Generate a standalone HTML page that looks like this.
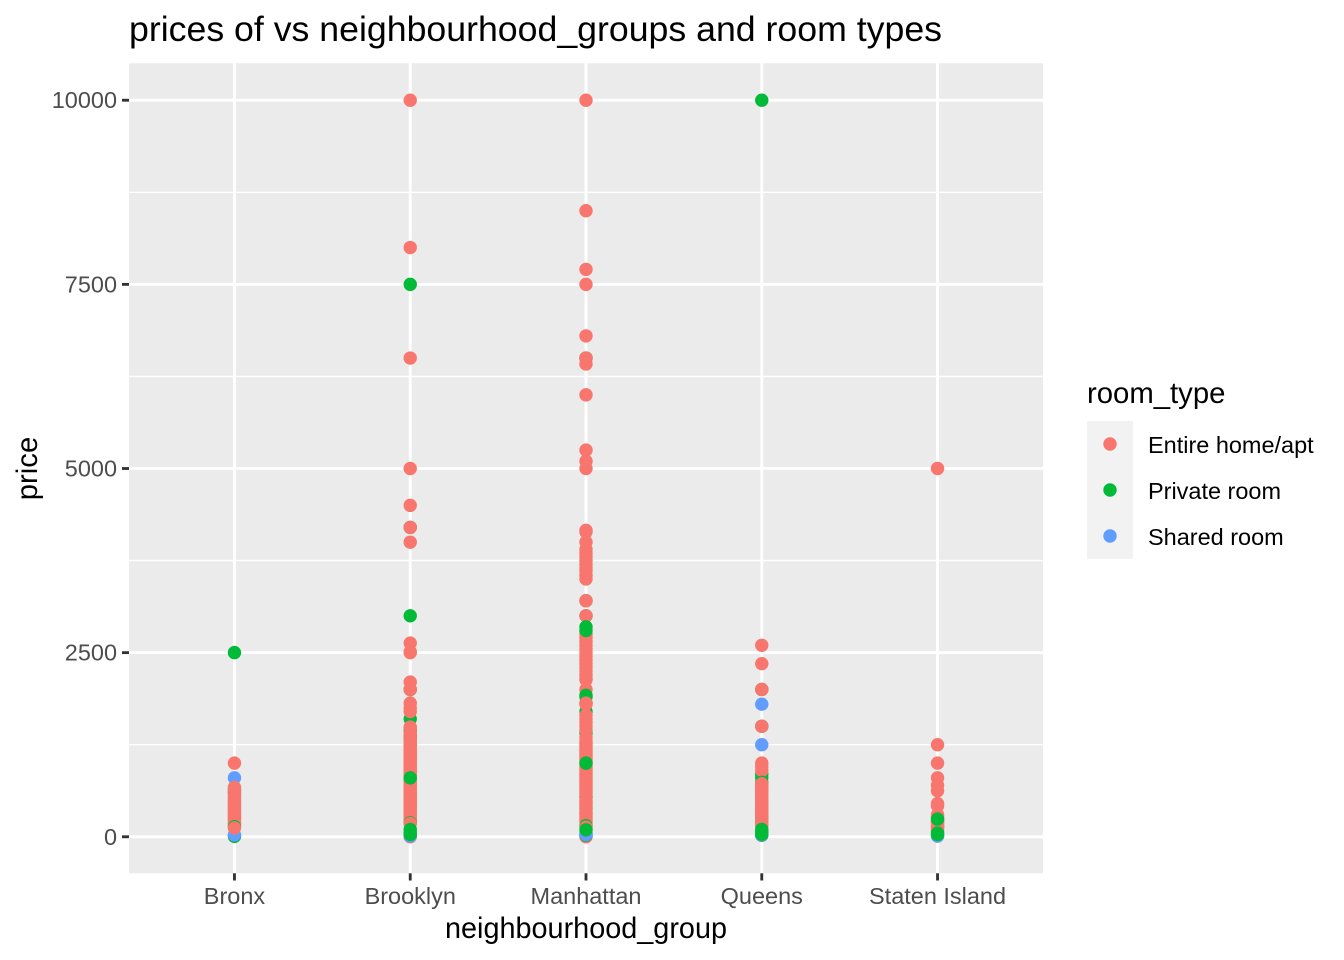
<!DOCTYPE html>
<html lang="en">
<head>
<meta charset="utf-8">
<title>prices of vs neighbourhood_groups and room types</title>
<style>
html,body{margin:0;padding:0;background:#fff;}
svg{display:block;font-family:"Liberation Sans",Arial,sans-serif;}
</style>
</head>
<body>
<svg id="chart" xmlns="http://www.w3.org/2000/svg" width="1344" height="960" viewBox="0 0 1344 960">
  <rect x="0" y="0" width="1344" height="960" fill="#ffffff"/>
  <rect x="129" y="63.3" width="914" height="810" fill="#ebebeb"/>
  <g id="grid"></g>
  <g id="points"></g>
  <g id="axes"></g>
  <text x="129" y="41" font-size="35.2" textLength="813" lengthAdjust="spacingAndGlyphs" fill="#000">prices of vs neighbourhood_groups and room types</text>
  <text x="445" y="938" font-size="29.3" textLength="282" lengthAdjust="spacingAndGlyphs" fill="#000">neighbourhood_group</text>
  <text transform="translate(37 468.5) rotate(-90)" font-size="29.3" text-anchor="middle" fill="#000">price</text>
  <g id="legend">
    <text x="1087" y="403" font-size="29.3" fill="#000">room_type</text>
  </g>
</svg>
<script>
const categories = ["Bronx", "Brooklyn", "Manhattan", "Queens", "Staten Island"];
const roomTypes = ["Entire home/apt", "Private room", "Shared room"];
const yTicks = [0, 2500, 5000, 7500, 10000];
const yMinorTicks = [1250, 3750, 6250, 8750];

/* Each series holds one price list per category, in the order of `categories`. */
const entireBack = [
  [],
  [0, 4200, 2000],
  [0, 10, 6500, 3000],
  [20, 2000, 1500],
  [10]
];
const privateBack = [
  [5, 15, 640, 610],
  [20, 1350, 1600, 4200, 2000, 1250, 1100, 500, 1440],
  [20, 1700, 1410, 540, 390, 3205, 6500, 3000],
  [20, 300, 700, 850, 800, 2000, 1500, 340, 260],
  [200, 140]
];
const sharedSeries = [
  [25, 800],
  [10, 40],
  [30, 50],
  [25, 1250, 1800],
  [10]
];
const entireSeries = [
  [1000, 670, 650, 600, 575, 550, 525, 500, 480, 460, 440, 420, 400, 380, 360, 340, 320, 300, 280, 260, 240, 220, 200, 180, 160],
  [10000, 8000, 6500, 5000, 4500, 4200, 4000, 2630, 2510, 2500, 2100, 2000, 1815, 1750, 1700, 1490, 1470, 1400, 1380, 1320, 1300, 1280, 1250, 1225, 1200, 1175, 1150, 1125, 1100, 1075, 1050, 1025, 1000, 975, 950, 925, 900, 875, 850, 825, 800, 775, 750, 725, 700, 675, 650, 625, 600, 575, 550, 525, 500, 475, 450, 425, 400, 375, 350, 325, 300, 275, 250, 225, 200],
  [10000, 8500, 7703, 7500, 6800, 6500, 6419, 6000, 5250, 5100, 5000, 4160, 4140, 4000, 3900, 3850, 3800, 3750, 3700, 3650, 3613, 3550, 3500, 3205, 3000, 2750, 2700, 2650, 2600, 2550, 2500, 2450, 2400, 2350, 2300, 2250, 2200, 2150, 2130, 2000, 1815, 1800, 1650, 1600, 1550, 1500, 1450, 1350, 1300, 1275, 1250, 1225, 1200, 1175, 1150, 1125, 1100, 1075, 1050, 1025, 1000, 975, 950, 925, 900, 875, 850, 825, 800, 775, 750, 725, 700, 675, 650, 625, 600, 575, 500, 475, 450, 425, 350, 325, 300, 275, 250, 225, 200],
  [2600, 2350, 2000, 1500, 1000, 950, 900, 700, 675, 650, 625, 600, 575, 550, 525, 500, 475, 450, 425, 400, 375, 350, 325, 300, 280, 225, 200, 175, 150],
  [5000, 1250, 1000, 800, 700, 625, 450, 420, 300, 275, 250, 225, 200, 175, 150, 125, 100, 75]
];
const privateMid = [
  [137],
  [190],
  [1900, 1920, 150],
  [740],
  []
];
const entireFront = [
  [120],
  [180],
  [130, 1815],
  [720],
  []
];
const privateFront = [
  [2500],
  [7500, 3000, 800, 100, 60, 30],
  [2850, 2800, 1000, 95],
  [10000, 100, 70, 50, 35],
  [240, 50, 30]
];

const panel = { left: 129, right: 1043, top: 63.4, bottom: 873.6 };
const xDomain = [0.4, 5.6];
const yDomain = [-500, 10500];
const roomColors = ["#F8766D", "#00BA38", "#619CFF"];
const pointRadius = 6.7;
const SVG_NS = "http://www.w3.org/2000/svg";

function xScale(index) {
  const pos = index + 1;
  return panel.left + (pos - xDomain[0]) / (xDomain[1] - xDomain[0]) * (panel.right - panel.left);
}
function yScale(value) {
  return panel.bottom - (value - yDomain[0]) / (yDomain[1] - yDomain[0]) * (panel.bottom - panel.top);
}
function make(tag, attrs, parent) {
  const el = document.createElementNS(SVG_NS, tag);
  for (const key in attrs) el.setAttribute(key, attrs[key]);
  parent.appendChild(el);
  return el;
}

const grid = document.getElementById("grid");
const points = document.getElementById("points");
const axes = document.getElementById("axes");
const legend = document.getElementById("legend");

yMinorTicks.forEach(function (v) {
  const line = make("line", { x1: 129, x2: panel.right, y1: yScale(v), y2: yScale(v), stroke: "#fff", "stroke-width": 1.42 }, grid);
  
  
});
yTicks.forEach(function (v) {
  const y = yScale(v);
  const line = make("line", { x1: 129, x2: panel.right, y1: y, y2: y, stroke: "#fff", "stroke-width": 2.85 }, grid);
  
  
  const tick = make("line", { x1: 122, x2: 129, y1: y, y2: y, stroke: "#333", "stroke-width": 2.85 }, axes);
  
  
  const label = make("text", { x: 117, y: y + 8, "text-anchor": "end", "font-size": 23.47, fill: "#4d4d4d" }, axes);
  
  
  label.textContent = String(v);
});
categories.forEach(function (name, i) {
  const x = xScale(i);
  const line = make("line", { x1: x, x2: x, y1: 63.3, y2: 873.3, stroke: "#fff", "stroke-width": 2.85 }, grid);
  
  
  const tick = make("line", { x1: x, x2: x, y1: 873.3, y2: 880.5, stroke: "#333", "stroke-width": 2.85 }, axes);
  
  
  const label = make("text", { x: x, y: 904, "text-anchor": "middle", "font-size": 23.47, fill: "#4d4d4d" }, axes);
  
  
  label.textContent = name;
});

function drawSeries(series, typeIndex) {
  series.forEach(function (prices, catIndex) {
    prices.forEach(function (price) {
      const dot = make("circle", { cx: xScale(catIndex), cy: yScale(price), r: pointRadius, fill: roomColors[typeIndex] }, points);
      
      
    });
  });
}
drawSeries(entireBack, 0);
drawSeries(privateBack, 1);
drawSeries(sharedSeries, 2);
drawSeries(entireSeries, 0);
drawSeries(privateMid, 1);
drawSeries(entireFront, 0);
drawSeries(privateFront, 1);

const keyBack = make("rect", { x: 1087, y: 421, width: 46, height: 138, fill: "#f2f2f2" }, legend);


roomTypes.forEach(function (name, i) {
  const cy = 444 + i * 46;
  const key = make("circle", { cx: 1110, cy: cy, r: pointRadius, fill: roomColors[i] }, legend);
  
  
  const label = make("text", { x: 1148, y: cy + 9, "font-size": 23.47, fill: "#000" }, legend);
  
  
  label.textContent = name;
});
</script>
</body>
</html>
